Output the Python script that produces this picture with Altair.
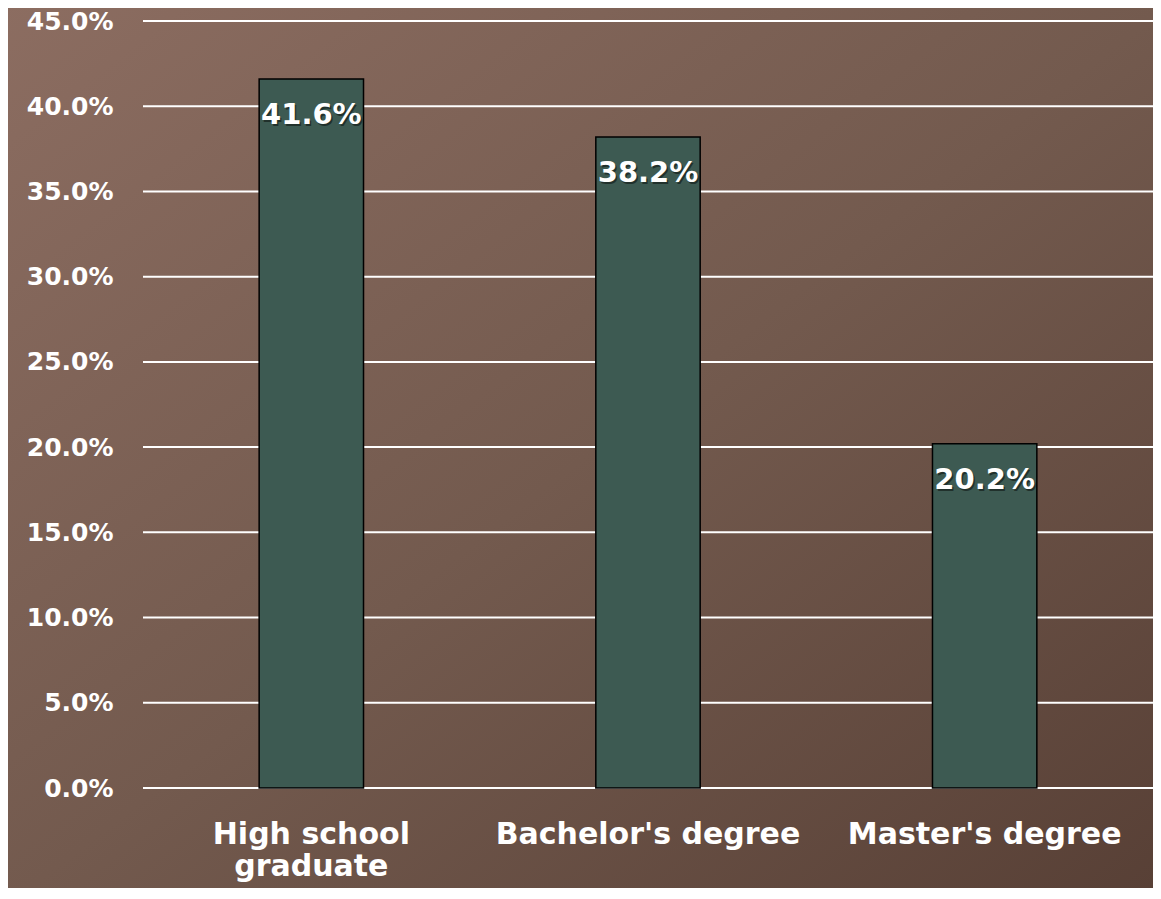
import altair as alt
import pandas as pd

categories = ["High school graduate", "Bachelor's degree", "Master's degree"]
values = [0.416, 0.382, 0.202]
labels = ["41.6%", "38.2%", "20.2%"]
tick_values = [0.0, 0.05, 0.10, 0.15, 0.20, 0.25, 0.30, 0.35, 0.40, 0.45]

df = pd.DataFrame({"cat": categories, "val": values, "lab": labels})
ticks_df = pd.DataFrame({"t": tick_values})

W = 1010
H = 767
FONT = "DejaVu Sans"

y_scale = alt.Scale(domain=[0, 0.45], nice=False)
y_axis = alt.Axis(title=None, format=".1%", values=tick_values,
                  labelColor="white", labelFont=FONT, labelFontWeight="bold",
                  labelFontSize=25, labelPadding=30, ticks=False, domain=False,
                  grid=False, zindex=2, labelLimit=300)

x_enc = alt.X("cat:N", sort=categories,
              scale=alt.Scale(paddingInner=0.69, paddingOuter=0.345),
              axis=alt.Axis(title=None, labelAngle=0, labelColor="white", labelFont=FONT,
                            labelFontWeight="bold", labelFontSize=30, labelPadding=31,
                            labelLineHeight=32, ticks=False, domain=False, zindex=2,
                            labelLimit=500,
                            labelExpr="datum.value == 'High school graduate' ? ['High school', 'graduate'] : datum.value"))

bg = alt.Chart(pd.DataFrame({"a": [0]})).mark_rect(
    fill=alt.Gradient(gradient="linear", x1=0, y1=0, x2=1, y2=1,
                      stops=[alt.GradientStop(color="#8c6d61", offset=0),
                             alt.GradientStop(color="#735a4e", offset=0.5),
                             alt.GradientStop(color="#573f35", offset=1)])
).encode(x=alt.value(-140), x2=alt.value(W + 20), y=alt.value(-20), y2=alt.value(H + 120))

grid = alt.Chart(ticks_df).mark_rule(color="white", strokeWidth=2).encode(
    y=alt.Y("t:Q", scale=y_scale, axis=y_axis), x=alt.value(0), x2=alt.value(W))

bars = alt.Chart(df).mark_bar(color="#3d5a52", stroke="black", strokeWidth=1.5).encode(
    x=x_enc, y=alt.Y("val:Q", scale=y_scale, axis=y_axis))

shadow = alt.Chart(df).mark_text(font=FONT, fontWeight="bold", fontSize=29, color="black",
                                 opacity=0.45, baseline="middle", dy=38, dx=1.5).encode(
    x=alt.X("cat:N", sort=categories), y=alt.Y("val:Q", scale=y_scale, axis=y_axis), text="lab:N")
text = alt.Chart(df).mark_text(font=FONT, fontWeight="bold", fontSize=29, color="white",
                               baseline="middle", dy=36).encode(
    x=alt.X("cat:N", sort=categories), y=alt.Y("val:Q", scale=y_scale, axis=y_axis), text="lab:N")

chart = alt.layer(bg, grid, bars, shadow, text).properties(
    width=W, height=H,
    autosize=alt.AutoSizeParams(type="none"),
    padding={"left": 135, "top": 13, "right": 0, "bottom": 100},
    background="#735a4e",
).configure_view(stroke=None)

chart.save("out.html", embed_options={"renderer": "svg", "actions": False})
